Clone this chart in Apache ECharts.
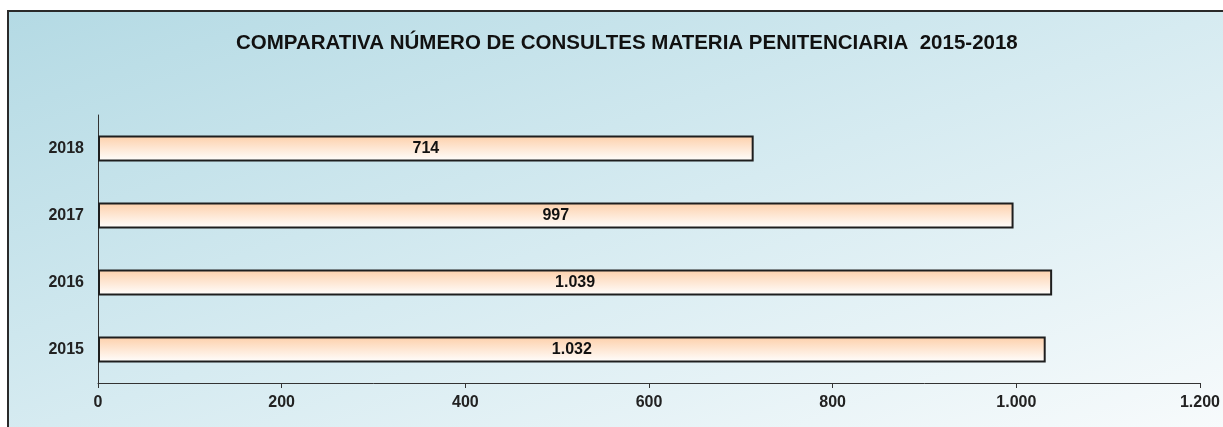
<!DOCTYPE html>
<html>
<head>
<meta charset="utf-8">
<style>
html,body{margin:0;padding:0;background:#fff;}
#chart{width:1223px;height:427px;}
</style>
<script src="https://cdn.jsdelivr.net/npm/echarts@6/dist/echarts.min.js"></script>
</head>
<body>
<div id="chart"></div>
<script>
var titleText = 'COMPARATIVA NÚMERO DE CONSULTES MATERIA PENITENCIARIA  2015-2018';
var years = ['2015', '2016', '2017', '2018'];
var consultes = [1032, 1039, 997, 714];
var xTicks = { min: 0, max: 1200, interval: 200 };

function fmt(v) {
  return String(v).replace(/\B(?=(\d{3})+(?!\d))/g, '.');
}

var chart = echarts.init(document.getElementById('chart'), null, { renderer: 'canvas' });
var FONT = '"Liberation Sans", Arial, sans-serif';
chart.setOption({
  animation: false,
  backgroundColor: '#ffffff',
  graphic: [{
    type: 'rect',
    z: -10,
    silent: true,
    shape: { x: 8, y: 11, width: 1240, height: 440 },
    style: {
      fill: new echarts.graphic.LinearGradient(8, 11, 274, 772, [
        { offset: 0, color: '#b4dae4' },
        { offset: 0.5, color: '#d6ebf1' },
        { offset: 1, color: '#f8fbfc' }
      ], true),
      stroke: '#2a2a2a',
      lineWidth: 2
    }
  }],
  title: {
    text: titleText,
    left: 231,
    top: 28,
    textStyle: { fontFamily: FONT, fontSize: 20.5, fontWeight: 'bold', color: '#111' }
  },
  grid: { left: 98, right: 23, top: 115, bottom: 44, containLabel: false },
  xAxis: {
    type: 'value',
    min: xTicks.min, max: xTicks.max, interval: xTicks.interval,
    axisLine: { show: true, lineStyle: { color: '#333', width: 1 } },
    axisTick: { show: true, length: 5, lineStyle: { color: '#333' } },
    splitLine: { show: false },
    axisLabel: {
      formatter: fmt, margin: 12,
      fontFamily: FONT, fontSize: 16, fontWeight: 'bold', color: '#222'
    }
  },
  yAxis: {
    type: 'category',
    data: years,
    axisLine: { show: true, lineStyle: { color: '#333', width: 1 } },
    axisTick: { show: false },
    axisLabel: {
      margin: 14,
      fontFamily: FONT, fontSize: 16, fontWeight: 'bold', color: '#222'
    }
  },
  series: [{
    type: 'bar',
    data: consultes,
    barWidth: 26,
    itemStyle: {
      color: new echarts.graphic.LinearGradient(0, 0, 0, 1, [
        { offset: 0, color: '#fdcfa9' },
        { offset: 1, color: '#ffffff' }
      ]),
      borderColor: '#1e1e1e',
      borderWidth: 2
    },
    label: {
      show: true,
      position: 'inside',
      formatter: function (p) { return fmt(p.value); },
      fontFamily: FONT, fontSize: 16, fontWeight: 'bold', color: '#111'
    }
  }]
});
</script>
</body>
</html>
